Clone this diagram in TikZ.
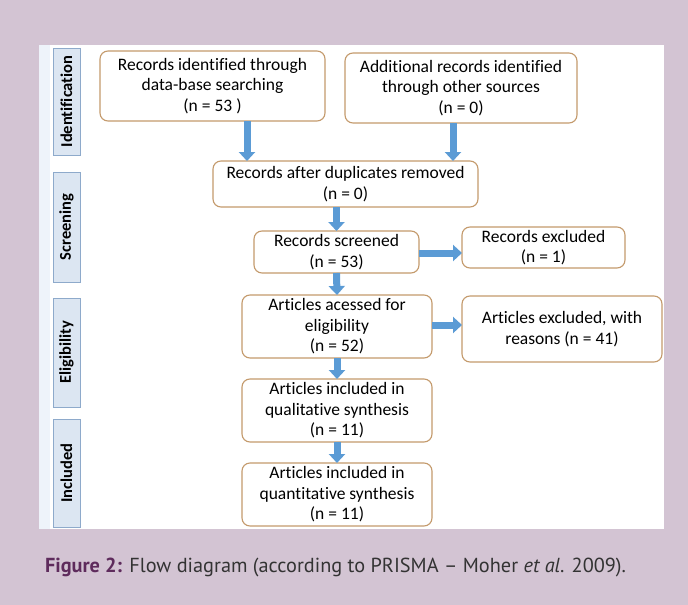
\documentclass[tikz,border=0pt]{standalone}
\usepackage{fontspec}
\setmainfont{Carlito}[Ligatures=NoCommon]
\newfontfamily\capfont{PT Sans}
\usetikzlibrary{arrows.meta}
\definecolor{lilac}{HTML}{D3C4D3}
\definecolor{stripblue}{HTML}{EEF3FA}
\definecolor{phasefill}{HTML}{DCE6F2}
\definecolor{phaseline}{HTML}{8EAACB}
\definecolor{boxline}{HTML}{C49A6C}
\definecolor{arrowblue}{HTML}{5B9BD5}
\definecolor{figpurple}{HTML}{5E2B5C}
\definecolor{captext}{HTML}{333333}
\begin{document}
\begin{tikzpicture}[x=1pt,y=-1pt,
    every node/.style={inner sep=0pt,outer sep=0pt},
    stage/.style={draw=boxline,line width=1.1pt,rounded corners=8pt,fill=white,
        align=center,font=\fontsize{17.5}{20.5}\selectfont},
    phase/.style={draw=phaseline,line width=1pt,fill=phasefill,minimum height=27pt,
        font=\fontsize{16.5}{18}\selectfont\bfseries,rotate=90}]
        \tikzset{blk/.style = {draw=arrowblue,line width=7pt,-{Triangle[width=16pt,length=9pt]}}}
        % background and panel
        \fill[lilac] (0,0) rectangle (688,605);
        \useasboundingbox (0,0) rectangle (688,605);
        \fill[white] (39,45) rectangle (664,529);
        \fill[stripblue] (39,45) rectangle (50,529);
        % phase labels
        \node[phase,minimum width=107pt] (id) at (66.5,101.5) {Identification};
        \node[phase,minimum width=110pt] (scr) at (66.5,227) {Screening};
        \node[phase,minimum width=109pt] (elig) at (66.5,352.5) {Eligibility};
        \node[phase,minimum width=108pt] (incl) at (66.5,473) {Included};
        % boxes
        \node[stage,minimum width=225pt,minimum height=70pt] (A) at (212.5,86) {Records identified through\\data-base searching\\(n = 53 )};
        \node[stage,minimum width=232pt,minimum height=70pt] (B) at (461,88) {Additional records identified\\through other sources\\(n = 0)};
        \node[stage,minimum width=265pt,minimum height=46pt] (C) at (345.5,184) {Records after duplicates removed\\(n = 0)};
        \node[stage,minimum width=165pt,minimum height=42pt] (D) at (336.5,252) {Records screened\\(n = 53)};
        \node[stage,minimum width=163pt,minimum height=41pt] (E) at (543.5,247.5) {Records excluded\\(n = 1)};
        \node[stage,minimum width=190pt,minimum height=63pt] (F) at (337,326.5) {Articles acessed for\\eligibility\\(n = 52)};
        \node[stage,minimum width=200pt,minimum height=66pt] (G) at (562,329) {Articles excluded, with\\reasons (n = 41)};
        \node[stage,minimum width=190pt,minimum height=63pt] (H) at (337,410.5) {Articles included in\\qualitative synthesis\\(n = 11)};
        \node[stage,minimum width=190pt,minimum height=63pt] (I) at (337,494.5) {Articles included in\\quantitative synthesis\\(n = 11)};
        % arrows
        \draw[blk] ([xshift=34.5pt]A.south) -- ([xshift=34.5pt]A.south |- C.north);
        \draw[blk] ([xshift=-8pt]B.south) -- ([xshift=-8pt]B.south |- C.north);
        \draw[blk] (C.south -| D.north) -- (D.north);
        \draw[blk] ([yshift=-1pt]D.east) -- ([yshift=-1pt]D.east -| E.west);
        \draw[blk] ([yshift=1.5pt]F.east) -- ([yshift=1.5pt]F.east -| G.west);
        \draw[blk] (D.south) -- (F.north);
        \draw[blk] (F.south) -- (H.north);
        \draw[blk] (H.south) -- (I.north);
        % caption
        \node[anchor=west,font=\capfont\fontsize{20.3}{22}\selectfont,text=captext] (cap) at (45,567)
            {\textcolor{figpurple}{\bfseries Figure 2:} Flow diagram (according to PRISMA – Moher \textit{et al}. 2009).};
\end{tikzpicture}
\end{document}
